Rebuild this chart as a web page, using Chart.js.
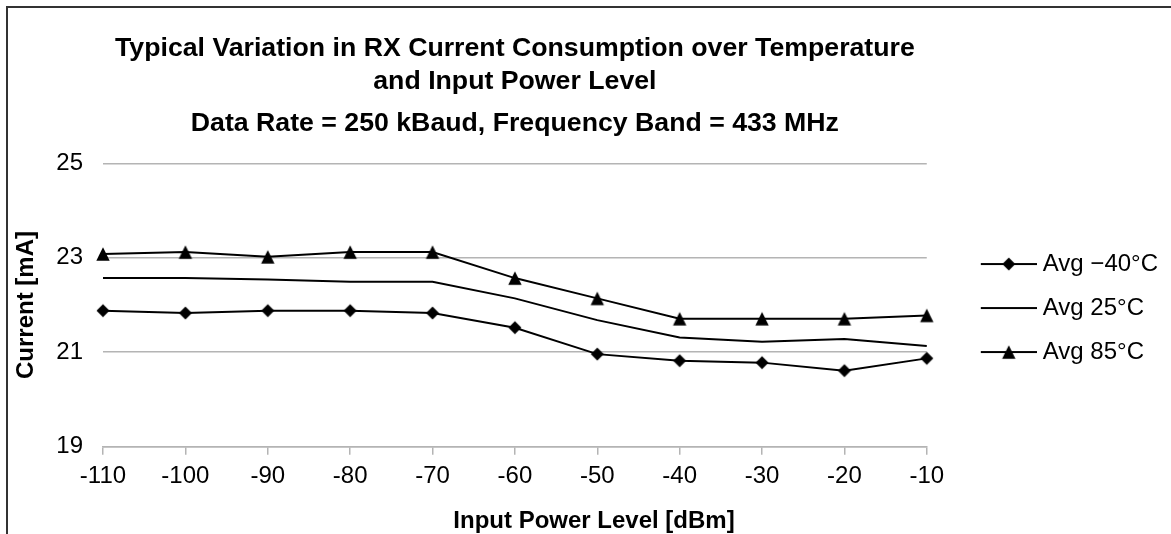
<!DOCTYPE html>
<html>
<head>
<meta charset="utf-8">
<title>RX Current Consumption</title>
<script src="https://cdn.jsdelivr.net/npm/chart.js@4.4.1/dist/chart.umd.min.js"></script>
<style>
  html, body { margin: 0; padding: 0; background: #fff; overflow: hidden; }
  #wrap { position: relative; width: 1171px; height: 534px; overflow: hidden; }
  #frame { position: absolute; left: 6px; top: 6px; width: 1200px; height: 600px;
           border-top: 2px solid #333; border-left: 2px solid #333; pointer-events: none; }
</style>
</head>
<body>
<div id="wrap">
  <canvas id="chart" width="1171" height="534"></canvas>
  <div id="frame"></div>
</div>
<script>
const FONT = "'Liberation Sans', Arial, sans-serif";

// Datos
const powerLevels = [-110, -100, -90, -80, -70, -60, -50, -40, -30, -20, -10];
const currentM40  = [21.88, 21.83, 21.88, 21.88, 21.83, 21.52, 20.96, 20.82, 20.78, 20.61, 20.87];
const current25   = [22.57, 22.57, 22.54, 22.49, 22.49, 22.14, 21.68, 21.31, 21.22, 21.28, 21.13];
const current85   = [23.08, 23.12, 23.02, 23.12, 23.12, 22.57, 22.14, 21.71, 21.71, 21.71, 21.78];
const seriesNames = ['Avg \u221240°C', 'Avg 25°C', 'Avg 85°C'];
const yTicks = [19, 21, 23, 25];

const titleLines = ['Typical Variation in RX Current Consumption over Temperature', 'and Input Power Level'];
const subtitleText = 'Data Rate = 250 kBaud, Frequency Band = 433 MHz';
const xTitle = 'Input Power Level [dBm]';
const yTitle = 'Current [mA]';

const GRID = '#b4b4b4';

// Marcadores (rombo / triángulo)
function markerCanvas(shape) {
  const c = document.createElement('canvas');
  c.width = 16; c.height = 16;
  const g = c.getContext('2d');
  g.fillStyle = '#000';
  g.beginPath();
  if (shape === 'diamond') {
    g.moveTo(8, 1.5); g.lineTo(14.5, 8); g.lineTo(8, 14.5); g.lineTo(1.5, 8);
  } else {
    g.moveTo(8, 1.3); g.lineTo(14.7, 14.7); g.lineTo(1.3, 14.7);
  }
  g.closePath();
  g.fill();
  return c;
}

// Icono de leyenda: línea + marcador
function legendIcon(marker) {
  const c = document.createElement('canvas');
  c.width = 96; c.height = 20;
  const g = c.getContext('2d');
  g.strokeStyle = '#000';
  g.lineWidth = 2;
  g.beginPath();
  g.moveTo(40, 10); g.lineTo(96, 10);
  g.stroke();
  if (marker) g.drawImage(marker, 68 - 8, 10 - 8);
  return c;
}

const diamond = markerCanvas('diamond');
const triangle = markerCanvas('triangle');
const icons = [legendIcon(diamond), legendIcon(null), legendIcon(triangle)];

function toPoints(values) {
  return powerLevels.map((x, i) => ({ x: x, y: values[i] }));
}

function lineDataset(label, values, marker) {
  return {
    label: label,
    data: toPoints(values),
    borderColor: '#000',
    backgroundColor: '#000',
    borderWidth: 2,
    tension: 0,
    fill: false,
    clip: false,
    pointStyle: marker || 'circle',
    pointRadius: marker ? 6 : 0,
    pointHoverRadius: marker ? 6 : 0
  };
}

// Título del eje X (desplazado a la derecha como en el original)
const xTitlePlugin = {
  id: 'xTitle',
  afterDraw(chart) {
    const ctx = chart.ctx;
    ctx.save();
    ctx.font = 'bold 24px ' + FONT;
    ctx.fillStyle = '#000';
    ctx.textAlign = 'center';
    ctx.textBaseline = 'alphabetic';
    ctx.fillText(xTitle, 594, 527.5);
    ctx.restore();
  }
};

new Chart(document.getElementById('chart'), {
  type: 'line',
  data: {
    datasets: [
      lineDataset(seriesNames[0], currentM40, diamond),
      lineDataset(seriesNames[1], current25, null),
      lineDataset(seriesNames[2], current85, triangle)
    ]
  },
  options: {
    responsive: false,
    animation: false,
    events: [],
    layout: { padding: { left: 8, right: 3, top: 0, bottom: 43.3 } },
    plugins: {
      tooltip: { enabled: false },
      title: {
        display: true, text: titleLines, fullSize: false, color: '#000',
        font: { family: FONT, size: 26.7, weight: 'bold', lineHeight: 1.236 },
        padding: { top: 32, bottom: 4 }
      },
      subtitle: {
        display: true, text: subtitleText, fullSize: false, color: '#000',
        font: { family: FONT, size: 26.7, weight: 'bold', lineHeight: 1.236 },
        padding: { top: 5, bottom: 23.3 }
      },
      legend: {
        position: 'right',
        fullSize: false,
        title: { display: true, text: ' ', font: { size: 6, lineHeight: 1 }, padding: 0 },
        labels: {
          usePointStyle: true,
          pointStyleWidth: 84,
          padding: 20,
          color: '#000',
          font: { family: FONT, size: 24 },
          generateLabels: chart => chart.data.datasets.map((ds, i) => ({
            text: ds.label,
            pointStyle: icons[i],
            fillStyle: '#000',
            strokeStyle: '#000',
            lineWidth: 0,
            fontColor: '#000',
            hidden: false,
            datasetIndex: i
          }))
        }
      }
    },
    scales: {
      x: {
        type: 'linear',
        min: powerLevels[0],
        max: powerLevels[powerLevels.length - 1],
        afterBuildTicks: s => { s.ticks = powerLevels.map(v => ({ value: v })); },
        afterFit: s => { s.height = 44; },
        grid: { drawOnChartArea: false, drawTicks: true, tickLength: 8, color: GRID, lineWidth: 1.5 },
        border: { display: true, color: GRID, width: 1.5 },
        ticks: {
          color: '#000', font: { family: FONT, size: 24 }, padding: 7,
          maxRotation: 0, autoSkip: false,
          callback: v => String(v)
        }
      },
      y: {
        min: yTicks[0],
        max: yTicks[yTicks.length - 1],
        afterBuildTicks: s => { s.ticks = yTicks.map(v => ({ value: v })); },
        afterFit: s => { s.width = 95; },
        grid: { color: GRID, lineWidth: 1.5, drawTicks: false },
        border: { display: false },
        ticks: { color: '#000', font: { family: FONT, size: 24 }, padding: 20, callback: v => String(v) },
        title: {
          display: true, text: yTitle, color: '#000',
          font: { family: FONT, size: 24, weight: 'bold' },
          padding: { top: 4, bottom: 0 }
        }
      }
    }
  },
  plugins: [xTitlePlugin]
});
</script>
</body>
</html>
